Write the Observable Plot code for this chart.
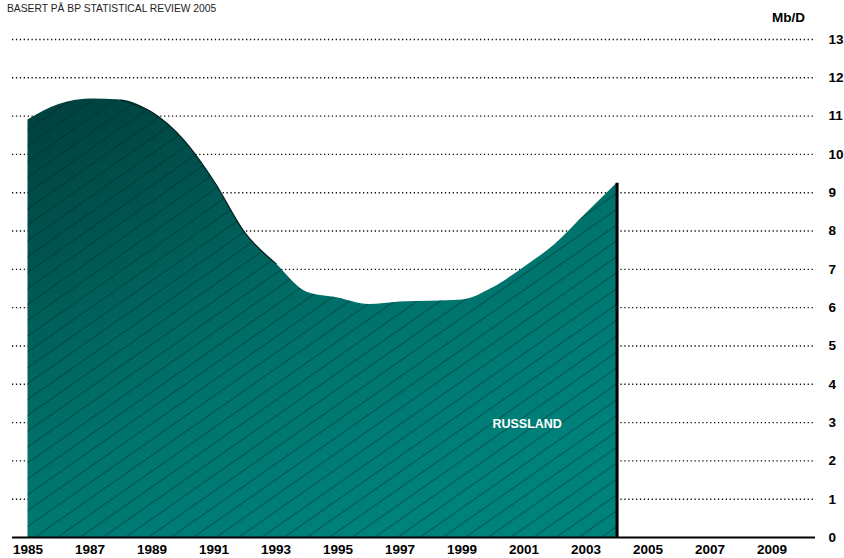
<!DOCTYPE html>
<html>
<head>
<meta charset="utf-8">
<script src="https://cdn.jsdelivr.net/npm/d3@7"></script>
<script src="https://cdn.jsdelivr.net/npm/@observablehq/plot@0.6"></script>
<style>
  html, body { margin: 0; padding: 0; background: #fff; }
  body { width: 844px; height: 558px; overflow: hidden; font-family: Arial, "Liberation Sans", sans-serif; }
  #header { position: relative; height: 30px; }
  #sub { position: absolute; left: 7px; top: 3px; font-size: 10.3px; color: #222; white-space: nowrap; }
  #unit { position: absolute; left: 772px; top: 10px; font-size: 13.5px; font-weight: bold; color: #000; }
  #chart svg { display: block; }
</style>
</head>
<body>
<div id="header">
  <div id="sub">BASERT PÅ BP STATISTICAL REVIEW 2005</div>
  <div id="unit">Mb/D</div>
</div>
<div id="chart"></div>
<script>
const years = [1985, 1986, 1987, 1988, 1989, 1990, 1991, 1992, 1993, 1994,
               1995, 1996, 1997, 1998, 1999, 2000, 2001, 2002, 2003, 2004];
const production = [10.9, 11.3, 11.45, 11.42, 11.1, 10.4, 9.3, 7.95, 7.15, 6.4,
                    6.25, 6.08, 6.15, 6.17, 6.2, 6.52, 7.05, 7.65, 8.45, 9.25];
const xTicks = [1985, 1987, 1989, 1991, 1993, 1995, 1997, 1999, 2001, 2003, 2005, 2007, 2009];
const yTicks = [0, 1, 2, 3, 4, 5, 6, 7, 8, 9, 10, 11, 12, 13];
const seriesLabel = ["RUSSLAND"];
const labelAt = [{year: 2001.1, value: 2.95}];

const data = years.map((year, i) => ({year, value: production[i]}));
const edge = data.filter(d => d.year >= 1988 && d.year <= 1993);
const last = [data[data.length - 1]];
const labels = labelAt.map((d, i) => ({...d, text: seriesLabel[i]}));

const curve = "monotone-x";

const svg = Plot.plot({
  width: 844,
  height: 528,
  marginTop: 9,
  marginBottom: 21,
  marginLeft: 12,
  marginRight: 29,
  style: {fontFamily: "Arial, 'Liberation Sans', sans-serif", fontSize: "13.5px", fontWeight: "bold", color: "#000", background: "#fff"},
  x: {domain: [1984.5, 2010.4], label: null},
  y: {domain: [0, 13], label: null},
  marks: [
    Plot.ruleY(yTicks.filter(d => d > 0), {stroke: "#111", strokeWidth: 1.4, strokeDasharray: "1.3,2.6"}),
    Plot.areaY(data, {x: "year", y: "value", fill: "url(#ruGrad)", curve}),
    Plot.areaY(data, {x: "year", y: "value", fill: "url(#ruHatch)", curve}),
    Plot.lineY(edge, {x: "year", y: "value", stroke: "#001c1b", strokeWidth: 1.2, curve}),
    Plot.ruleX(last, {x: "year", y1: 0, y2: "value", stroke: "#000", strokeWidth: 3}),
    Plot.ruleY([0], {stroke: "#000", strokeWidth: 2}),
    Plot.axisX({ticks: xTicks, tickFormat: d => String(d), tickSize: 0, tickPadding: 7, fontSize: 13.5, fontWeight: "bold", label: null}),
    Plot.axisY({anchor: "right", ticks: yTicks, tickSize: 0, tickPadding: 13, fontSize: 13.5, fontWeight: "bold", label: null}),
    Plot.text(labels, {x: "year", y: "value", text: "text", fill: "#fff", fontSize: 12.5, fontWeight: "bold", textAnchor: "middle", style: "letter-spacing:1px"})
  ]
});

d3.select(svg).insert("defs", ":first-child").html(`
  <linearGradient id="ruGrad" x1="0" y1="0" x2="0.6" y2="1">
    <stop offset="0" stop-color="#003f3c"/>
    <stop offset="0.25" stop-color="#00524e"/>
    <stop offset="0.45" stop-color="#00655f"/>
    <stop offset="0.65" stop-color="#00746e"/>
    <stop offset="1" stop-color="#00827c"/>
  </linearGradient>
  <pattern id="ruHatch" patternUnits="userSpaceOnUse" width="40" height="13" patternTransform="rotate(-35)">
    <line x1="0" y1="6.5" x2="40" y2="6.5" stroke="#002826" stroke-opacity="0.6" stroke-width="0.8"/>
  </pattern>
`);

document.getElementById("chart").appendChild(svg);
</script>
</body>
</html>
